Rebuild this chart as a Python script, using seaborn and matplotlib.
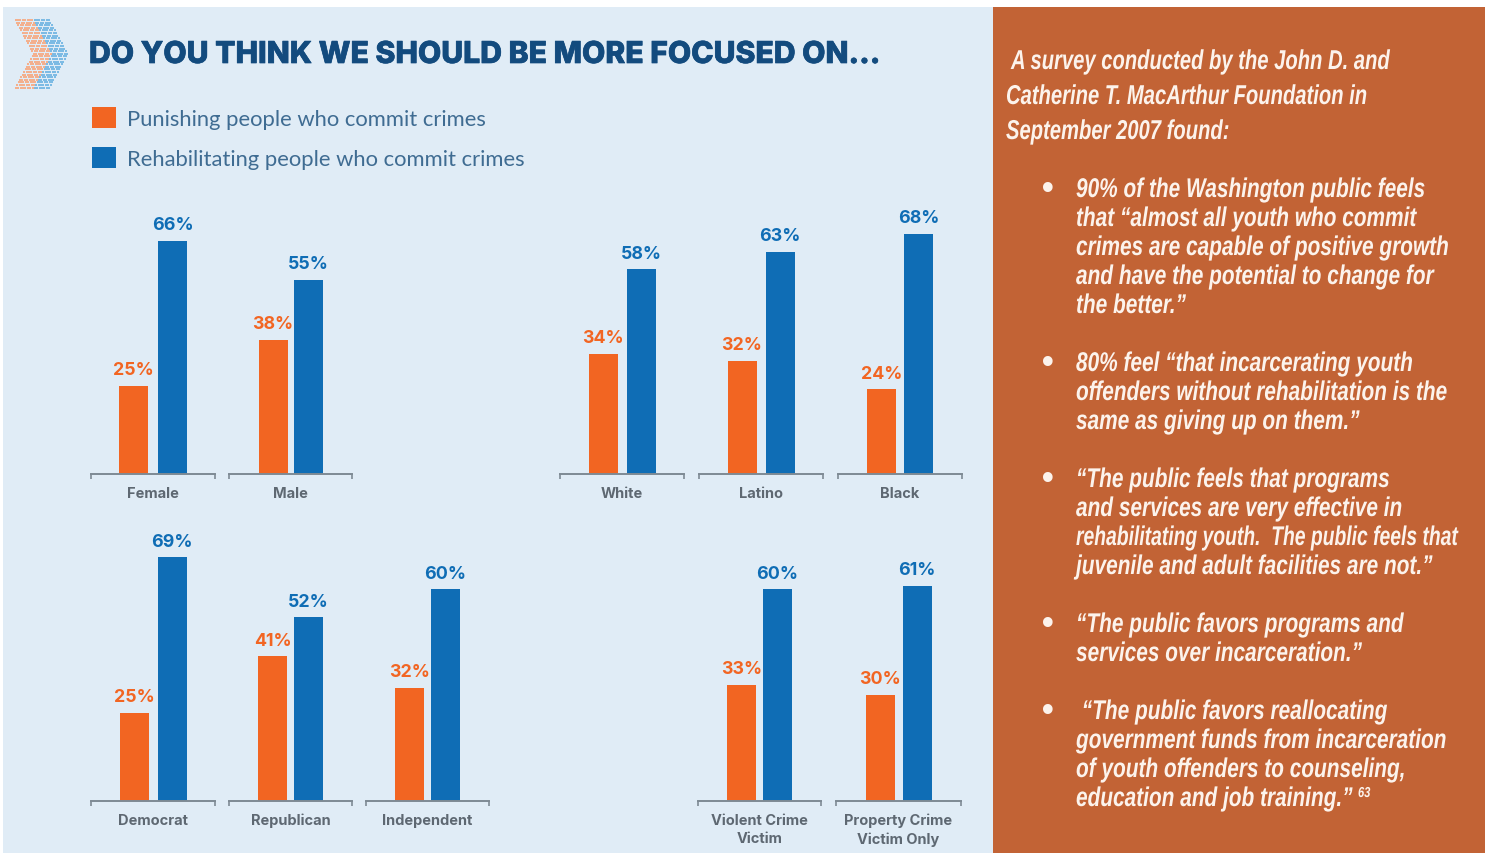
import numpy as np
import pandas as pd
import seaborn as sns
import matplotlib.pyplot as plt
import matplotlib.patheffects as pe
from matplotlib.patches import Rectangle
from matplotlib.transforms import Affine2D

# --- data ---
groups = ['Female', 'Male', 'White', 'Latino', 'Black', 'Democrat', 'Republican',
          'Independent', 'Violent Crime\nVictim', 'Property Crime\nVictim Only']
punishing = [25, 38, 34, 32, 24, 25, 41, 32, 33, 30]
rehabilitating = [66, 55, 58, 63, 68, 69, 52, 60, 60, 61]
series_names = ['Punishing people who commit crimes', 'Rehabilitating people who commit crimes']

title = 'DO YOU THINK WE SHOULD BE MORE FOCUSED ON...'
intro_lines = ['A survey conducted by the John D. and',
               'Catherine T. MacArthur Foundation in',
               'September 2007 found:']
bullets = [
    ['90% of the Washington public feels', 'that “almost all youth who commit',
     'crimes are capable of positive growth', 'and have the potential to change for', 'the better.”'],
    ['80% feel “that incarcerating youth', 'offenders without rehabilitation is the',
     'same as giving up on them.”'],
    ['“The public feels that programs', 'and services are very effective in',
     'rehabilitating youth.  The public feels that', 'juvenile and adult facilities are not.”'],
    ['“The public favors programs and', 'services over incarceration.”'],
    [' “The public favors reallocating', 'government funds from incarceration',
     'of youth offenders to counseling,', 'education and job training.”'],
]

# --- layout, in pixels of the 1489x854 picture ---
W, H = 1489, 854
ax_left = [91, 229, 560, 699, 838, 91, 229, 366, 698, 836]
ax_right = [215, 352, 684, 823, 962, 215, 352, 489, 821, 961]
baseline = [475, 475, 475, 475, 475, 802, 802, 802, 802, 802]
bar_gap_px = [10, 6, 9, 9, 8, 9, 7, 7, 7, 8]
bar_px = 29
px_per_pct = 3.53

ORANGE = '#F26522'
BLUE = '#0F6DB5'
PANEL = '#E0ECF6'
BRICK = '#C26335'
NAVY = '#134B7E'
GREY = '#5E6872'
WHITE_TXT = '#FCF3EC'
sans = 'Inter'
side_font = 'Liberation Sans'


class TallText(pe.AbstractPathEffect):
    # no condensed font here, so stretch the glyphs upward from the baseline
    def __init__(self, y0, sy):
        self.y0, self.sy = y0, sy

    def draw_path(self, renderer, gc, tpath, affine, rgbFace=None):
        tall = Affine2D().translate(0, -self.y0).scale(1, self.sy).translate(0, self.y0)
        renderer.draw_path(gc, tpath, affine + tall, rgbFace)


def side_text(x, y, s, size=15, sy=1.3):
    # y is the middle of the line, the baseline sits below it
    base = y + 9
    t = bg.text(x, base, s, family=side_font, fontsize=size, fontweight='bold', style='italic',
                color=WHITE_TXT, va='baseline')
    t.set_path_effects([TallText(H - base, sy)])
    return t


df = pd.DataFrame({
    'group': np.repeat(groups, 2),
    'series': series_names * len(groups),
    'pct': np.column_stack([punishing, rehabilitating]).ravel(),
})

sns.set_theme(style='white')
fig = plt.figure(figsize=(W / 100, H / 100), dpi=100, facecolor='white')

# background layer in pixel coordinates
bg = fig.add_axes([0, 0, 1, 1])
bg.set_xlim(0, W)
bg.set_ylim(H, 0)
bg.axis('off')
bg.add_patch(Rectangle((3, 8), 990, H - 8, color=PANEL, lw=0))
bg.add_patch(Rectangle((993, 8), 492, H - 8, color=BRICK, lw=0))

# chevron logo made of small squares
for x0, wid, col in [(15, 19, '#F3B08E'), (34, 15, '#7DBBE4')]:
    xs, ys = [], []
    for y in np.arange(21, 90, 2.6):
        off = (35 - abs(y - 55)) * 19 / 35
        row = np.arange(x0 + off, x0 + off + wid, 2.4)
        xs.extend(row)
        ys.extend([y] * len(row))
    bg.scatter(xs, ys, s=4.5, marker='s', color=col, lw=0)

bg.text(89, 56, title, fontsize=21.7, fontweight='heavy', family='Inter', color=NAVY, va='center',
        path_effects=[pe.withStroke(linewidth=0.5, foreground=NAVY)])

# intro and bullets on the right
for txt, x, y in zip(intro_lines, [1011, 1006, 1006], [61, 96, 131]):
    side_text(x, y, txt, size=14.55, sy=1.35)
bullet_y = [189, 363, 479, 624, 711]
for lines, y0 in zip(bullets, bullet_y):
    bg.text(1048, y0 + 2, '•', family='DejaVu Sans', fontsize=24, color=WHITE_TXT, ha='center', va='center')
    for i, line in enumerate(lines):
        # the one long line has to stay inside the panel
        side_text(1076, y0 + 29 * i, line, size=13.9 if len(line) > 40 else 15,
                  sy=1.4 if len(line) > 40 else 1.3)
side_text(1358, 789, '63', size=8, sy=1.3)

# one small axes per group
handles = None
for i, name in enumerate(groups):
    wpx = ax_right[i] - ax_left[i]
    ax = fig.add_axes([ax_left[i] / W, 1 - baseline[i] / H, wpx / W, 75 * px_per_pct / H])
    g = bar_gap_px[i]
    sns.barplot(data=df[df['group'] == name], x='group', y='pct', hue='series',
                hue_order=series_names, palette=[ORANGE, BLUE], ax=ax,
                width=2 * (bar_px + g) / wpx, gap=g / (bar_px + g), saturation=1, linewidth=0)
    if handles is None:
        handles, labels = ax.get_legend_handles_labels()
    ax.get_legend().remove()
    ax.set_xlim(-0.5, 0.5)
    ax.set_ylim(0, 75)
    ax.patch.set_alpha(0)
    for c, col in zip(ax.containers, [ORANGE, BLUE]):
        ax.bar_label(c, fmt='%d%%', padding=5.5, color=col, fontsize=12.8, fontweight='bold', family=sans)
    for s in ['top', 'left', 'right']:
        ax.spines[s].set_visible(False)
    ax.spines['bottom'].set_color('#7E8A94')
    ax.spines['bottom'].set_linewidth(1.4)
    ax.set_yticks([])
    ax.set_xlabel('')
    ax.set_ylabel('')
    ax.set_xticks([-0.5, 0.5], minor=True)
    ax.tick_params(axis='x', which='minor', length=3.5, width=1.2, color='#7E8A94', direction='out', bottom=True)
    ax.tick_params(axis='x', which='major', length=0, pad=8.5, labelsize=10.5, labelcolor=GREY)
    for t in ax.get_xticklabels():
        t.set_fontweight('bold')
        t.set_family(sans)
        t.set_linespacing(1.4)

fig.legend(handles, labels, loc='upper left', bbox_to_anchor=(74 / W, 1 - 90 / H),
           frameon=False, prop={'family': 'Lato', 'size': 15.8}, labelcolor='#3F6C92',
           handlelength=1.1, handleheight=1.1, handletextpad=0.5, labelspacing=0.85, borderpad=0.3)

fig.savefig('out.png', dpi=100)
